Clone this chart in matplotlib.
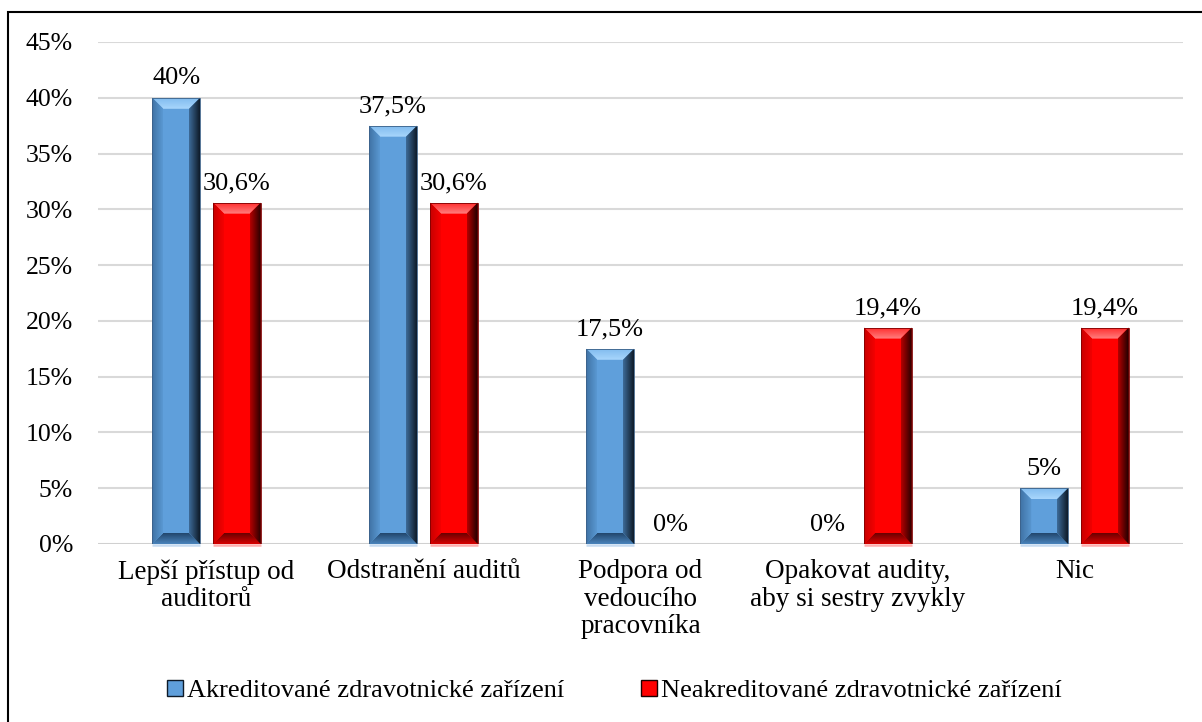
import numpy as np
import matplotlib
matplotlib.use("Agg")
import matplotlib.pyplot as plt
from matplotlib.patches import Polygon, Rectangle, Patch
from matplotlib.colors import to_rgba

plt.rcParams['font.family'] = ['Liberation Serif', 'DejaVu Serif']

categories = ["Lepší přístup od\nauditorů", "Odstranění auditů",
              "Podpora od\nvedoucího\npracovníka",
              "Opakovat audity,\naby si sestry zvykly", "Nic"]
series_names = ["Akreditované zdravotnické zařízení",
                "Neakreditované zdravotnické zařízení"]
akreditovane = [40.0, 37.5, 17.5, 0.0, 5.0]
neakreditovane = [30.6, 30.6, 0.0, 19.4, 19.4]
y_ticks = [0, 5, 10, 15, 20, 25, 30, 35, 40, 45]

# colours for the bevelled bars: (outer, inner) pairs for each bevel side
palettes = [
    dict(face="#5f9fdb",
         top=("#a8d6fc", "#82bcef"), bottom=("#4a84bc", "#22466c"),
         left=("#3f72a4", "#5a98d2"), right=("#3d6b98", "#0e1a28"),
         edge="#3a5f86", refl="#b9d3ee"),
    dict(face="#ff0000",
         top=("#ff8080", "#ff3030"), bottom=("#d80000", "#6a0000"),
         left=("#c80000", "#f40000"), right=("#b40000", "#1c0000"),
         edge="#800000", refl="#ff9a9a"),
]

W, H, DPI = 1202, 722, 100
fig = plt.figure(figsize=(W / DPI, H / DPI), dpi=DPI)
ax = fig.add_axes([98 / W, 1 - 544 / H, (1183 - 98) / W, (544 - 42) / H])

x = np.arange(len(categories))
bw = 0.22
off = 0.14
ax.set_xlim(-0.5, len(categories) - 0.5)
ax.set_ylim(0, 45)

ax.set_yticks(y_ticks)
ax.set_yticklabels([f"{t}%" for t in y_ticks])
ax.set_xticks(x)
ax.set_xticklabels(categories, linespacing=1.12)
ax.tick_params(axis='both', length=0)
ax.tick_params(axis='y', pad=18, labelsize=18.5)
ax.tick_params(axis='x', pad=11, labelsize=19.5)
for s in ax.spines.values():
    s.set_visible(False)
ax.grid(axis='y', color="#d9d9d9", linewidth=1.5)
ax.set_axisbelow(True)
ax.axhline(0, color="#d0d0d0", linewidth=2.0, zorder=1)


def fmt(v):
    s = f"{v:.1f}".rstrip("0").rstrip(".")
    return s.replace(".", ",") + "%"


def gradient(poly_px, bbox_px, c0, c1, direction):
    """Fill a pixel-space polygon with a linear gradient from c0 to c1."""
    inv = ax.transData.inverted()
    poly_data = inv.transform(poly_px)
    (x0, y0), (x1, y1) = inv.transform(bbox_px)
    n = 64
    t = np.linspace(0, 1, n)
    a, b = np.array(to_rgba(c0)), np.array(to_rgba(c1))
    cols = a[None, :] * (1 - t[:, None]) + b[None, :] * t[:, None]
    if direction == "v":   # c0 at top, c1 at bottom
        img = cols[:, None, :]
    else:                  # c0 at left, c1 at right
        img = cols[None, :, :]
    clip = Polygon(poly_data, closed=True, transform=ax.transData,
                   facecolor="none", edgecolor="none")
    ax.add_patch(clip)
    im = ax.imshow(img, extent=(x0, x1, y0, y1), origin="upper",
                   aspect="auto", interpolation="bilinear", zorder=3)
    im.set_clip_path(clip)


def bevel_bar(xc, val, pal):
    if val <= 0:
        return
    bars = ax.bar(xc, val, width=bw, color=pal["face"], edgecolor="none",
                  linewidth=0, zorder=2)
    r = bars[0]
    (px0, py0) = ax.transData.transform((r.get_x(), 0))
    (px1, py1) = ax.transData.transform((r.get_x() + r.get_width(), val))
    b = min(11.0, (py1 - py0) / 2, (px1 - px0) / 2)
    # top bevel (light)
    gradient([(px0, py1), (px1, py1), (px1 - b, py1 - b), (px0 + b, py1 - b)],
             [(px0, py1), (px1, py1 - b)], pal["top"][0], pal["top"][1], "v")
    # bottom bevel (dark)
    gradient([(px0, py0), (px1, py0), (px1 - b, py0 + b), (px0 + b, py0 + b)],
             [(px0, py0 + b), (px1, py0)], pal["bottom"][0], pal["bottom"][1], "v")
    # left bevel
    gradient([(px0, py0), (px0, py1), (px0 + b, py1 - b), (px0 + b, py0 + b)],
             [(px0, py1), (px0 + b, py0)], pal["left"][0], pal["left"][1], "h")
    # right bevel (shadowed)
    gradient([(px1, py0), (px1, py1), (px1 - b, py1 - b), (px1 - b, py0 + b)],
             [(px1 - b, py1), (px1, py0)], pal["right"][0], pal["right"][1], "h")
    inv = ax.transData.inverted()
    (dx0, dy0), (dx1, dy1) = inv.transform([(px0, py0), (px1, py1)])
    ax.add_patch(Rectangle((dx0, dy0), dx1 - dx0, dy1 - dy0, facecolor="none",
                           edgecolor=pal["edge"], linewidth=0.6, zorder=4))
    # faint reflection under the bar
    ax.plot([dx0, dx1], [-0.12, -0.12], color=pal["refl"], alpha=0.8,
            linewidth=1.8, zorder=1, clip_on=False, solid_capstyle="butt")


for vals, o, pal in [(akreditovane, -off, palettes[0]),
                     (neakreditovane, off, palettes[1])]:
    for xi, v in zip(x, vals):
        bevel_bar(xi + o, v, pal)
        ax.annotate(fmt(v), (xi + o, v), xytext=(0, 6), textcoords="offset points",
                    ha="center", va="bottom", fontsize=19, zorder=5)

ax.set_xlim(-0.5, len(categories) - 0.5)
ax.set_ylim(0, 45)

handles = [Patch(facecolor=palettes[0]["face"], edgecolor=palettes[0]["right"][1]),
           Patch(facecolor=palettes[1]["face"], edgecolor=palettes[1]["right"][1])]
fig.legend(handles, series_names, loc="center", bbox_to_anchor=(0.511, 1 - 691 / H),
           ncol=2, frameon=False, fontsize=19, handlelength=0.6, handleheight=0.6,
           handletextpad=0.15, columnspacing=2.9)

fig.patches.append(Rectangle((8 / W, -0.1), 1.2, (1 - 12 / H) + 0.1,
                             transform=fig.transFigure, fill=False,
                             edgecolor="black", linewidth=1.5))

fig.savefig("out.png", dpi=DPI)
